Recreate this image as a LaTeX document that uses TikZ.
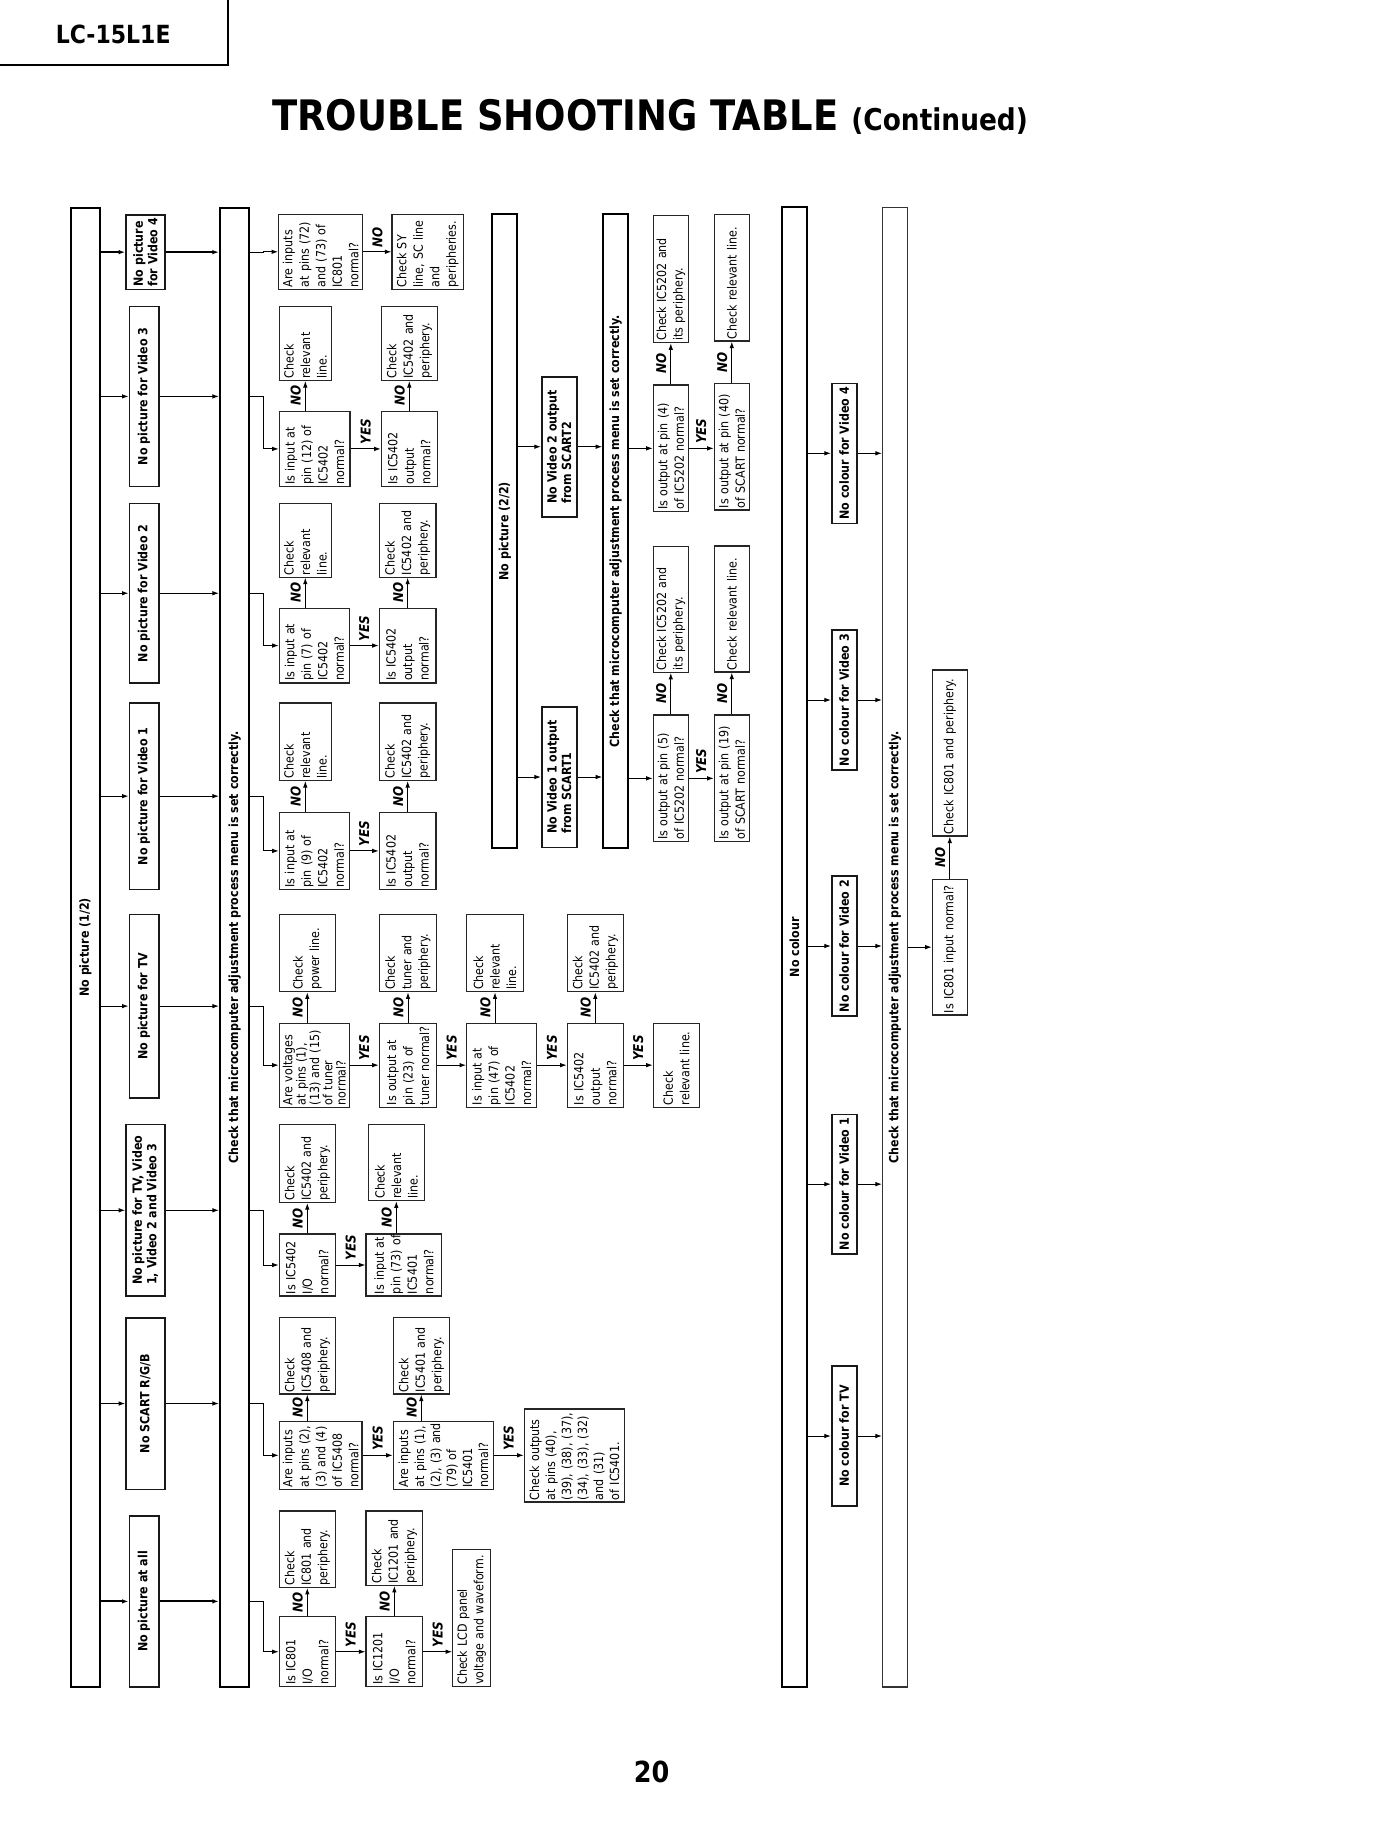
\documentclass[tikz,border=0pt]{standalone}
\usepackage{fontspec}
\setmainfont{DejaVu Sans}[FakeStretch=0.88]
\usetikzlibrary{arrows.meta}
\newcommand\chktxt{Check that microcomputer adjustment process menu is set correctly.}
\tikzset{
  basen/.style={rotate=90, font=\fontsize{12.6}{16.5}\selectfont},
  qbox/.style={basen, draw=black!85, line width=1.2pt, align=left, inner xsep=2pt, inner ysep=0pt, text width=\bxt pt},
  catbox/.style={basen, draw=black!90, line width=1.6pt, align=left, inner sep=0pt, font=\bfseries\fontsize{12.6}{14.5}\selectfont},
  bigbox/.style={basen, draw, line width=2.2pt, align=center, inner sep=0pt, font=\bfseries\fontsize{12.6}{14.5}\selectfont},
  lab/.style={rotate=90, inner sep=4pt, font=\bfseries\itshape\fontsize{13.5}{13.5}\selectfont},
  arr/.style={line width=0.9pt, -{Latex[length=6.5pt,width=4.5pt]}},
}
\newcommand\mybox[7]{%
  \pgfmathsetmacro\bxw{#6-#5}%
  \pgfmathsetmacro\bxh{#4-#3}%
  \pgfmathsetmacro\bxt{#6-#5-4}%
  \pgfmathsetmacro\bxx{(#3+#4)/2}%
  \pgfmathsetmacro\bxy{(#5+#6)/2}%
  \node[#1, minimum width=\bxw pt, minimum height=\bxh pt] (#2) at (\bxx,\bxy) {#7};%
}
\newcommand\catar[4][]{\draw[arr,#1] (#2.south |- #3.center) -- (#3.north); \draw[arr,#1] (#3.south) -- (#3.south -| #4.north);}
\newcommand\brar[4][]{\draw[arr,#1] (#2.south |- #3.center) -- ++(13,0) |- (#4.north);}
\newcommand\nov[3]{\draw[arr] (#3.west |- #2.east) -- (#3.west) node[midway, lab, anchor=south] (#1) {NO};}
\newcommand\horl[4]{\draw[arr] (#2.south) -- (#2.south -| #3.north) node[midway, lab, anchor=west] (#1) {#4};}
\begin{document}
\begin{tikzpicture}[x=1pt,y=-1pt]
\useasboundingbox (0,0) rectangle (1400,1826);
\fill[white] (0,0) rectangle (1400,1826);
% header
\draw[line width=2pt] (0,65) -- (228,65) -- (228,0);
\node[anchor=base west, inner sep=0pt, font=\bfseries\fontsize{25}{25}\selectfont] (hdr) at (55.6,43.3) {LC-15L1E};
\node[anchor=base west, inner sep=0pt, font=\bfseries] (title) at (272,130.7) {{\fontsize{42}{42}\selectfont TROUBLE SHOOTING TABLE\ }{\fontsize{30}{30}\selectfont (Continued)}};
\node[anchor=base, inner sep=0pt, font=\bfseries\fontsize{29}{29}\selectfont] (pg) at (651.7,1782.7) {20};
% big boxes
\mybox{bigbox}{BA}{70.7}{100}{207.7}{1687}{No picture (1/2)}
\mybox{bigbox}{BB}{220}{249.3}{207.7}{1687}{\chktxt}
\mybox{bigbox}{BC}{492.3}{517.3}{214.3}{848.3}{No picture (2/2)}
\mybox{bigbox}{BD}{603.3}{628.3}{214.3}{848.3}{\chktxt}
\mybox{bigbox}{BE}{781.7}{807.3}{207.3}{1687}{No colour}
\mybox{bigbox,line width=1.5pt,draw=black!80}{BF}{882.7}{907.3}{207.3}{1687}{\chktxt}
% category boxes column 1
\mybox{catbox}{V4}{126}{164.7}{215}{289.3}{No picture\\for Video 4}
\mybox{catbox}{V3}{129.3}{158.7}{306.4}{486.4}{No picture for Video 3}
\mybox{catbox}{V2}{129.3}{158.7}{503.6}{682.9}{No picture for Video 2}
\mybox{catbox}{V1}{129.3}{158.7}{703}{889.3}{No picture for Video 1}
\mybox{catbox}{VT}{129.3}{158.7}{914.3}{1097.9}{No picture for TV}
\mybox{catbox}{VA}{126}{164.7}{1124.6}{1296}{No picture for TV, Video\\1, Video 2 and Video 3}
\mybox{catbox}{VS}{126}{164.7}{1317.7}{1489.3}{No SCART R/G/B}
\mybox{catbox}{VL}{129.3}{158.7}{1516}{1686.7}{No picture at all}
% category boxes column 2 and 3
\mybox{catbox}{S2}{541.7}{576.7}{376.7}{516.7}{No Video 2 output\\from SCART2}
\mybox{catbox}{S1}{541.7}{576.7}{706.7}{847.3}{No Video 1 output\\from SCART1}
\mybox{catbox}{N4}{831.7}{856.7}{383.3}{523.3}{No colour for Video 4}
\mybox{catbox}{N3}{831.7}{856.7}{630}{770}{No colour for Video 3}
\mybox{catbox}{N2}{831.7}{856.7}{876}{1016}{No colour for Video 2}
\mybox{catbox}{N1}{831.7}{856.7}{1114.3}{1254}{No colour for Video 1}
\mybox{catbox}{NT}{831.7}{856.7}{1366}{1506}{No colour for TV}
% Video 4 row
\mybox{qbox}{q4a}{278.7}{362.7}{214.3}{289.3}{Are~inputs\\at~pins~(72)\\and~(73)~of\\IC801\\normal?}
\mybox{qbox}{c4a}{392}{463.3}{214.3}{289.3}{Check~SY\\line,~SC~line\\and\\peripheries.}
% Video 3 row
\mybox{qbox}{q3a}{279.3}{350}{411.4}{486.4}{Is~input~at\\pin~(12)~of\\IC5402\\normal?}
\mybox{qbox}{c3a}{279.3}{331.3}{306.4}{380.4}{Check\\relevant\\line.}
\mybox{qbox}{q3b}{381.3}{437.3}{411.4}{486.4}{Is~IC5402\\output\\normal?}
\mybox{qbox}{c3b}{381.3}{437.3}{306.4}{380.4}{Check\\IC5402~and\\periphery.}
% Video 2 row
\mybox{qbox}{q2a}{279.3}{349.3}{608.2}{682.9}{Is~input~at\\pin~(7)~of\\IC5402\\normal?}
\mybox{qbox}{c2a}{279.3}{331.3}{503.6}{577.1}{Check\\relevant\\line.}
\mybox{qbox}{q2b}{379.3}{436}{608.2}{682.9}{Is~IC5402\\output\\normal?}
\mybox{qbox}{c2b}{379.3}{436}{503.6}{577.1}{Check\\IC5402~and\\periphery.}
% Video 1 row
\mybox{qbox}{q1a}{279.3}{349.3}{812.5}{889.3}{Is~input~at\\pin~(9)~of\\IC5402\\normal?}
\mybox{qbox}{c1a}{279.3}{331.3}{703}{780.4}{Check\\relevant\\line.}
\mybox{qbox}{q1b}{379.3}{436}{812.5}{889.3}{Is~IC5402\\output\\normal?}
\mybox{qbox}{c1b}{379.3}{436}{703}{780.4}{Check\\IC5402~and\\periphery.}
% TV row
\mybox{qbox,font=\fontsize{12.6}{13.3}\selectfont}{qta}{279.3}{349.3}{1023.2}{1107.1}{Are~voltages\\at~pins~(1),\\(13)~and~(15)\\of~tuner\\normal?}
\mybox{qbox}{cta}{279.3}{335.3}{914.3}{991.8}{Check\\power~line.}
\mybox{qbox}{qtb}{379.3}{436.7}{1023.2}{1107.1}{Is~output~at\\pin~(23)~of\\tuner~normal?}
\mybox{qbox}{ctb}{379.3}{436.7}{914.3}{991.8}{Check\\tuner~and\\periphery.}
\mybox{qbox}{qtc}{466.7}{536.7}{1023.2}{1107.1}{Is~input~at\\pin~(47)~of\\IC5402\\normal?}
\mybox{qbox}{ctc}{466.7}{523.3}{914.3}{991.8}{Check\\relevant\\line.}
\mybox{qbox}{qtd}{567.3}{623.3}{1023.2}{1107.1}{Is~IC5402\\output\\normal?}
\mybox{qbox}{ctd}{567.3}{623.3}{914.3}{991.8}{Check\\IC5402~and\\periphery.}
\mybox{qbox}{cte}{653.3}{699.3}{1023.2}{1107.1}{Check\\relevant~line.}
% TV, Video 1-3 row
\mybox{qbox}{qva}{279.3}{335.3}{1234}{1296}{Is~IC5402\\I/O\\normal?}
\mybox{qbox}{cva}{279.3}{335.3}{1124.6}{1202.5}{Check\\IC5402~and\\periphery.}
\mybox{qbox}{qvb}{366}{441.7}{1234}{1296}{Is~input~at\\pin~(73)~of\\IC5401\\normal?}
\mybox{qbox}{cvb}{368.3}{424.3}{1124.6}{1200.7}{Check\\relevant\\line.}
% SCART row
\mybox{qbox}{qsa}{279.3}{362}{1421.3}{1489.3}{Are~inputs\\at~pins~(2),\\(3)~and~(4)\\of~IC5408\\normal?}
\mybox{qbox}{csa}{279.3}{335.3}{1317.7}{1394}{Check\\IC5408~and\\periphery.}
\mybox{qbox,font=\fontsize{12.6}{16}\selectfont}{qsb}{393.3}{493.3}{1421.3}{1489.3}{Are~inputs\\at~pins~(1),\\(2),~(3)~and\\(79)~of\\IC5401\\normal?}
\mybox{qbox}{csb}{393.3}{449.3}{1317.7}{1394}{Check\\IC5401~and\\periphery.}
\mybox{qbox,font=\fontsize{12.6}{16}\selectfont}{cso}{524.3}{624.3}{1409}{1502}{Check~outputs\\at~pins~(40),\\(39),~(38),~(37),\\(34),~(33),~(32)\\and~(31)\\of~IC5401.}
% No picture at all row
\mybox{qbox}{qla}{279.3}{335.3}{1616.7}{1686.7}{Is~IC801\\I/O\\normal?}
\mybox{qbox}{cla}{279.3}{335.3}{1511}{1587.3}{Check\\IC801~and\\periphery.}
\mybox{qbox}{qlb}{366}{422.7}{1616.7}{1686.7}{Is~IC1201\\I/O\\normal?}
\mybox{qbox}{clb}{366}{422.7}{1511}{1585.3}{Check\\IC1201~and\\periphery.}
\mybox{qbox}{qlc}{452.7}{490.7}{1549.3}{1686.7}{Check~LCD~panel\\voltage~and~waveform.}
% column 2 boxes
\mybox{qbox}{p4}{653.3}{688.3}{385}{511.7}{Is~output~at~pin~(4)\\of~IC5202~normal?}
\mybox{qbox}{k4}{653.3}{688.3}{215.7}{342.7}{Check~IC5202~and\\its~periphery.}
\mybox{qbox}{p40}{714.3}{749.3}{383.3}{510}{Is~output~at~pin~(40)\\of~SCART~normal?}
\mybox{qbox}{k40}{714.3}{749.3}{214.3}{341}{Check~relevant~line.}
\mybox{qbox}{p5}{653.3}{688.3}{715}{841.7}{Is~output~at~pin~(5)\\of~IC5202~normal?}
\mybox{qbox}{k5}{653.3}{688.3}{546.7}{672.3}{Check~IC5202~and\\its~periphery.}
\mybox{qbox}{p19}{714.3}{749.3}{715}{841.7}{Is~output~at~pin~(19)\\of~SCART~normal?}
\mybox{qbox}{k19}{714.3}{749.3}{546}{672}{Check~relevant~line.}
% column 3 boxes
\mybox{qbox}{f1}{932.3}{967.3}{879.3}{1015}{Is~IC801~input~normal?}
\mybox{qbox}{f2}{932.3}{967.3}{670}{836}{Check~IC801~and~periphery.}
% connectors column 1
\catar[line width=1.6pt]{BA}{V4}{BB}
\catar{BA}{V3}{BB}
\catar{BA}{V2}{BB}
\catar{BA}{V1}{BB}
\catar{BA}{VT}{BB}
\catar{BA}{VA}{BB}
\catar{BA}{VS}{BB}
\catar[line width=1.8pt]{BA}{VL}{BB}
\brar{BB}{V4}{q4a}
\brar{BB}{V3}{q3a}
\brar{BB}{V2}{q2a}
\brar{BB}{V1}{q1a}
\brar{BB}{VT}{qta}
\brar{BB}{VA}{qva}
\brar{BB}{VS}{qsa}
\brar{BB}{VL}{qla}
\horl{l4a}{q4a}{c4a}{NO}
\nov{l3a}{q3a}{c3a} \horl{l3b}{q3a}{q3b}{YES} \nov{l3c}{q3b}{c3b}
\nov{l2a}{q2a}{c2a} \horl{l2b}{q2a}{q2b}{YES} \nov{l2c}{q2b}{c2b}
\nov{l1a}{q1a}{c1a} \horl{l1b}{q1a}{q1b}{YES} \nov{l1c}{q1b}{c1b}
\nov{lta}{qta}{cta} \horl{ltb}{qta}{qtb}{YES} \nov{ltc}{qtb}{ctb} \horl{ltd}{qtb}{qtc}{YES}
\nov{lte}{qtc}{ctc} \horl{ltf}{qtc}{qtd}{YES} \nov{ltg}{qtd}{ctd} \horl{lth}{qtd}{cte}{YES}
\nov{lva}{qva}{cva} \horl{lvb}{qva}{qvb}{YES} \nov{lvc}{qvb}{cvb}
\nov{lsa}{qsa}{csa} \horl{lsb}{qsa}{qsb}{YES} \nov{lsc}{qsb}{csb} \horl{lsd}{qsb}{cso}{YES}
\nov{lla}{qla}{cla} \horl{llb}{qla}{qlb}{YES} \nov{llc}{qlb}{clb} \horl{lld}{qlb}{qlc}{YES}
% connectors column 2
\catar{BC}{S2}{BD}
\catar{BC}{S1}{BD}
\draw[arr] (BD.south |- p4.center) -- (p4.north);
\draw[arr] (BD.south |- p5.center) -- (p5.north);
\nov{m4a}{p4}{k4} \horl{m4b}{p4}{p40}{YES} \nov{m4c}{p40}{k40}
\nov{m5a}{p5}{k5} \horl{m5b}{p5}{p19}{YES} \nov{m5c}{p19}{k19}
% connectors column 3
\catar{BE}{N4}{BF}
\catar{BE}{N3}{BF}
\catar{BE}{N2}{BF}
\catar{BE}{N1}{BF}
\catar{BE}{NT}{BF}
\draw[arr] (BF.south |- f1.center) -- (f1.north);
\nov{mfa}{f1}{f2}
\end{tikzpicture}
\end{document}
